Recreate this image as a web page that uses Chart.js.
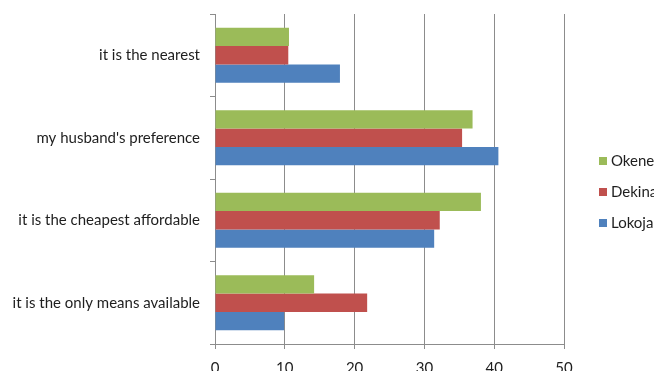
<!DOCTYPE html>
<html>
<head>
<meta charset="utf-8">
<script src="https://cdn.jsdelivr.net/npm/chart.js@4"></script>
<style>
    html, body { margin: 0; padding: 0; background: #fff; overflow: hidden; }
    #wrap { width: 654px; height: 371px; position: relative; }
</style>
</head>
<body>
<div id="wrap"><canvas id="reasonChart"></canvas></div>
<script>
const reasons = [
    "it is the nearest",
    "my husband's preference",
    "it is the cheapest affordable",
    "it is the only means available"
];

// values (per town)
const okene = [10.6, 36.9, 38.1, 14.2];
const dekina = [10.5, 35.4, 32.2, 21.8];
const lokoja = [17.9, 40.6, 31.4, 9.9];

const xTicks = [0, 10, 20, 30, 40, 50];

const gridGrey = "#8c8c8c";
const textColor = "#1e1e1e";
const fontFamily = "Lato, 'Open Sans', sans-serif";

// legend on the right, drawn like the original (runs off the edge)
const sideLegend = {
    id: "sideLegend",
    afterDraw(chart) {
        const ctx = chart.ctx;
        const area = chart.chartArea;
        ctx.save();
        ctx.font = "15px " + fontFamily;
        ctx.textBaseline = "middle";
        chart.data.datasets.forEach((ds, i) => {
            const y = 161 + i * 31;
            const x = area.right + 35;
            ctx.fillStyle = ds.backgroundColor;
            ctx.fillRect(x, y - 4, 8, 8);
            ctx.fillStyle = textColor;
            ctx.fillText(ds.label, x + 12, y);
        });
        ctx.restore();
    }
};

new Chart(document.getElementById("reasonChart"), {
    type: "bar",
    data: {
        labels: reasons,
        datasets: [
            { label: "Okene", data: okene, backgroundColor: "#9bbb59" },
            { label: "Dekina", data: dekina, backgroundColor: "#c0504d" },
            { label: "Lokoja", data: lokoja, backgroundColor: "#4f81bd" }
        ]
    },
    options: {
        indexAxis: "y",
        responsive: true,
        maintainAspectRatio: false,
        animation: false,
        layout: {
            padding: { top: 14, right: 90, left: 0, bottom: 0 }
        },
        datasets: {
            bar: {
                categoryPercentage: 0.667,
                barPercentage: 1.0
            }
        },
        plugins: {
            legend: { display: false },
            tooltip: { enabled: false }
        },
        scales: {
            x: {
                min: xTicks[0],
                max: xTicks[xTicks.length - 1],
                afterBuildTicks(scale) {
                    scale.ticks = xTicks.map(v => ({ value: v }));
                },
                afterFit(scale) {
                    scale.height = 27;
                    scale.paddingLeft = 0;
                    scale.paddingRight = 0;
                },
                grid: {
                    color: gridGrey,
                    tickLength: 5,
                    tickColor: gridGrey
                },
                border: { display: true, color: gridGrey },
                ticks: {
                    color: textColor,
                    padding: 10,
                    font: { family: fontFamily, size: 15 }
                }
            },
            y: {
                afterFit(scale) {
                    scale.width = 215;
                    scale.paddingTop = 0;
                    scale.paddingBottom = 0;
                },
                grid: {
                    drawOnChartArea: false,
                    offset: true,
                    tickLength: 5,
                    color: gridGrey
                },
                border: { display: true, color: gridGrey },
                ticks: {
                    color: textColor,
                    padding: 10,
                    font: { family: fontFamily, size: 15 }
                }
            }
        }
    },
    plugins: [sideLegend]
});
</script>
</body>
</html>
